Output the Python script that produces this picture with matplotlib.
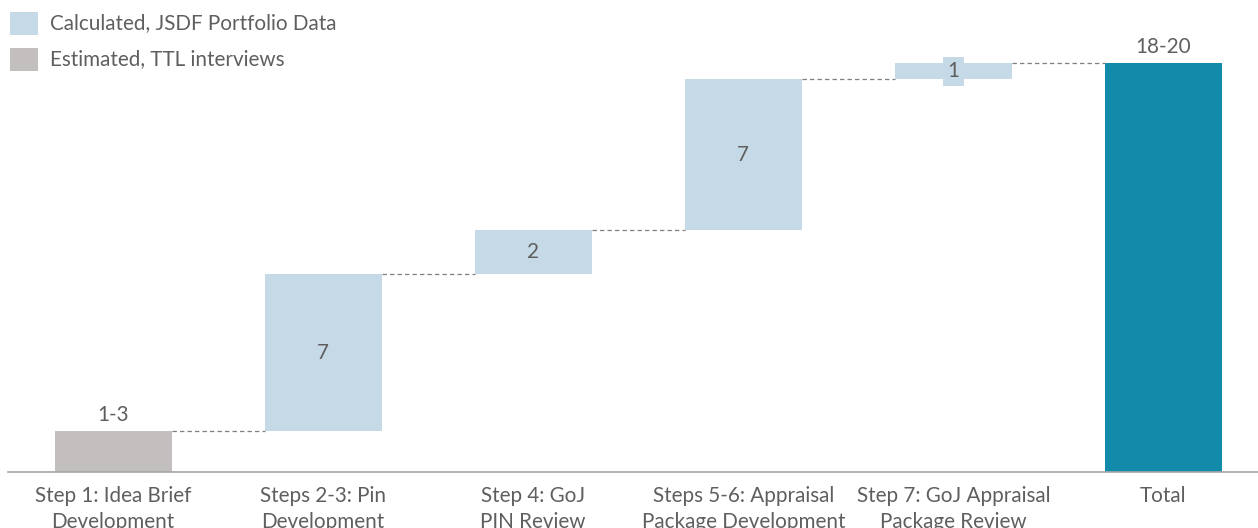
import matplotlib
matplotlib.use("Agg")
from matplotlib import pyplot as plt
from matplotlib.patches import Rectangle
import numpy as np

plt.rcParams["font.family"] = ["Lato", "DejaVu Sans"]

categories = ["Step 1: Idea Brief\nDevelopment", "Steps 2-3: Pin\nDevelopment",
              "Step 4: GoJ\nPIN Review", "Steps 5-6: Appraisal\nPackage Development",
              "Step 7: GoJ Appraisal\nPackage Review", "Total"]
steps = [1.83, 7.0, 1.96, 6.74, 0.71]
labels = ["1-3", "7", "2", "7", "1", "18-20"]
kinds = ["est", "calc", "calc", "calc", "calc", "total"]

legend_labels = ["Calculated, JSDF Portfolio Data", "Estimated, TTL interviews"]

colors = {"calc": "#C6D9E7", "est": "#C4BFBF", "total": "#128AAA"}
txt_color = "#5F5F5F"
fs = 14.9

fig = plt.figure(figsize=(12.58, 5.28), dpi=100)
ax = fig.add_axes([8 / 1258, 56 / 528, 1250 / 1258, 472 / 528])

total = sum(steps)
bottoms = np.concatenate([[0], np.cumsum(steps)[:-1], [0]])
heights = steps + [total]
x = np.arange(len(categories))
w = 0.557

for i in range(len(categories)):
    ax.bar(x[i], heights[i], w, bottom=bottoms[i], color=colors[kinds[i]], linewidth=0)

# connectors
tops = bottoms + np.array(heights)
for i in range(len(categories) - 1):
    ax.plot([x[i] + w / 2, x[i + 1] - w / 2], [tops[i], tops[i]],
            ls=(0, (3.5, 2.5)), color="#7F7F7F", lw=0.9)

# value labels
for i in range(len(categories)):
    if kinds[i] in ("est", "total"):
        ax.text(x[i], tops[i] + 0.28, labels[i], ha="center", va="bottom",
                fontsize=fs, color=txt_color)
    elif heights[i] < 1.5:
        ax.text(x[i], bottoms[i] + heights[i] / 2, labels[i], ha="center", va="center",
                fontsize=fs, color=txt_color,
                bbox=dict(boxstyle="square,pad=0.2", fc=colors["calc"], ec="none"))
    else:
        ax.text(x[i], bottoms[i] + heights[i] / 2, labels[i], ha="center", va="center",
                fontsize=fs, color=txt_color)

ax.set_xlim(-0.5, 5.45)
ax.set_ylim(0, 472 / 22.4)
ax.set_xticks(x)
ax.set_xticklabels(categories, fontsize=fs, color=txt_color, linespacing=1.4)
ax.tick_params(axis="x", length=0, pad=10)
ax.set_yticks([])
for s in ["top", "right", "left"]:
    ax.spines[s].set_visible(False)
ax.spines["bottom"].set_color("#A6A6A6")
ax.spines["bottom"].set_linewidth(1.2)

# legend drawn by hand
leg_colors = [colors["calc"], colors["est"]]
for j, lab in enumerate(legend_labels):
    y0 = 528 - 12 - 36 * j
    fig.patches.append(Rectangle((10 / 1258, (y0 - 23) / 528), 28 / 1258, 23 / 528,
                                 transform=fig.transFigure, color=leg_colors[j], lw=0))
    fig.text(50 / 1258, (y0 - 11.5) / 528, lab, fontsize=fs, color=txt_color, va="center")

fig.savefig("out.png", dpi=100)
